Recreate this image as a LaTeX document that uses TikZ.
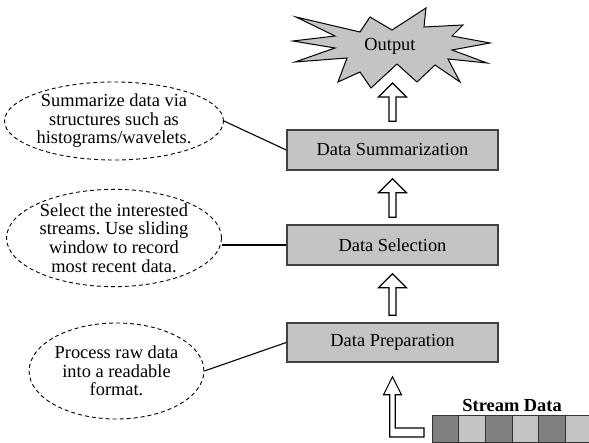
\documentclass[tikz,border=0pt]{standalone}
\usepackage{fontspec}
\setmainfont{Liberation Serif}
\usepackage{tikz}
\usetikzlibrary{positioning, shapes.geometric, calc}
\definecolor{boxgray}{RGB}{196,196,196}
\definecolor{celldark}{RGB}{128,128,128}
\definecolor{celllight}{RGB}{196,196,196}
\frenchspacing

\begin{document}
\begin{tikzpicture}[x=1pt, y=-1pt, font=\fontsize{18.4}{18.6}\selectfont,
    procbox/.style={draw=black!75, line width=1.5pt, rectangle, fill=boxgray, minimum width=211pt, minimum height=40pt},
    note/.style={draw, dashed, dash pattern=on 4pt off 3pt, line width=0.9pt, ellipse, align=center, inner sep=0pt},
    link/.style={draw, line width=1.1pt},
    cell/.style={draw=black!80, line width=0.8pt, rectangle, minimum width=26.7pt, minimum height=27pt, outer sep=0pt},
    blockarrow/.style={draw, line width=1.1pt, fill=white, to path={let \p1=(\tikztostart), \p2=(\tikztotarget) in
        (\x1-3.5pt,\y1) -- (\x1+3.5pt,\y1) -- (\x1+3.5pt,\y2-14pt) -- (\x1+14pt,\y2-14pt) -- (\x1,\y2)
        -- (\x1-14pt,\y2-14pt) -- (\x1-3.5pt,\y2-14pt) -- cycle}},
    larrow/.style={draw, line width=1.1pt, fill=white, to path={let \p1=(\tikztostart), \p2=(\tikztotarget) in
        (\x1,\y1+4.5pt) -- (\x2+2.75pt,\y1+4.5pt) -- (\x2+2.75pt,\y2-18pt) -- (\x2+9pt,\y2-18pt) -- (\x2,\y2)
        -- (\x2-9pt,\y2-18pt) -- (\x2-2.75pt,\y2-18pt) -- (\x2-2.75pt,\y1-4.5pt) -- (\x1,\y1-4.5pt) -- cycle}}]
    \useasboundingbox (0,0) rectangle (589,443);

    % Output burst
    \draw[line width=1pt, fill=boxgray] (296,17) -- (360,32) -- (370,17) -- (392,30) -- (426,8) -- (424,27)
        -- (463,25) -- (452,36) -- (490,43) -- (452,50) -- (487,63) -- (448,59) -- (460,82) -- (435,65)
        -- (417,82) -- (397,64) -- (371,88) -- (360,72) -- (338,82) -- (347,58) -- (295,62) -- (335,48)
        -- (293,41) -- (335,36) -- cycle;
    \node (out) at (390,46) {Output};

    % Stages
    \node[procbox] (summ) at (392.5,150) {Data Summarization};
    \node[procbox] (sel) at (392.5,245) {Data Selection};
    \node[procbox, minimum height=39pt] (prep) at (392.5,342.5) {Data Preparation};

    \draw[blockarrow] ([yshift=8pt]summ.north) to ([yshift=-37pt]out.center);
    \draw[blockarrow] ([yshift=7pt]sel.north) to ([yshift=-8pt]summ.south);
    \draw[blockarrow] ([yshift=7pt]prep.north) to ([yshift=-8pt]sel.south);

    % Notes
    \node[note, minimum width=215pt, minimum height=78pt] (nsumm) at (114,121) {Summarize data via\\structures such as\\histograms/wavelets.};
    \node[note, minimum width=215pt, minimum height=87pt] (nsel) at (114,238) {Select the interested\\streams. Use sliding\\window to record\\most recent data.};
    \node[note, minimum width=173pt, minimum height=96pt] (nprep) at (116.5,371) {Process raw data\\into a readable\\format.};

    \draw[link] (nsumm.east) -- (summ.west);
    \draw[link] (nsel.east |- sel.west) -- (sel.west);
    \draw[link] (nprep.east) -- (prep.west);

    % Stream
    \foreach \i in {1,...,6} {
        \pgfmathsetmacro{\cx}{432+26.7*\i-13.35}
        \ifodd\i
            \node[cell, fill=celldark] (c\i) at (\cx,428.5) {};
        \else
            \node[cell, fill=celllight] (c\i) at (\cx,428.5) {};
        \fi
    }
    \node[font=\fontsize{18.4}{18.6}\selectfont\bfseries, anchor=base] (slabel) at ([yshift=4pt]c3.north east) {Stream Data};
    \draw[larrow] ([xshift=-8pt,yshift=-4pt]c1.west) to ([yshift=-14pt]prep.south);
\end{tikzpicture}
\end{document}
